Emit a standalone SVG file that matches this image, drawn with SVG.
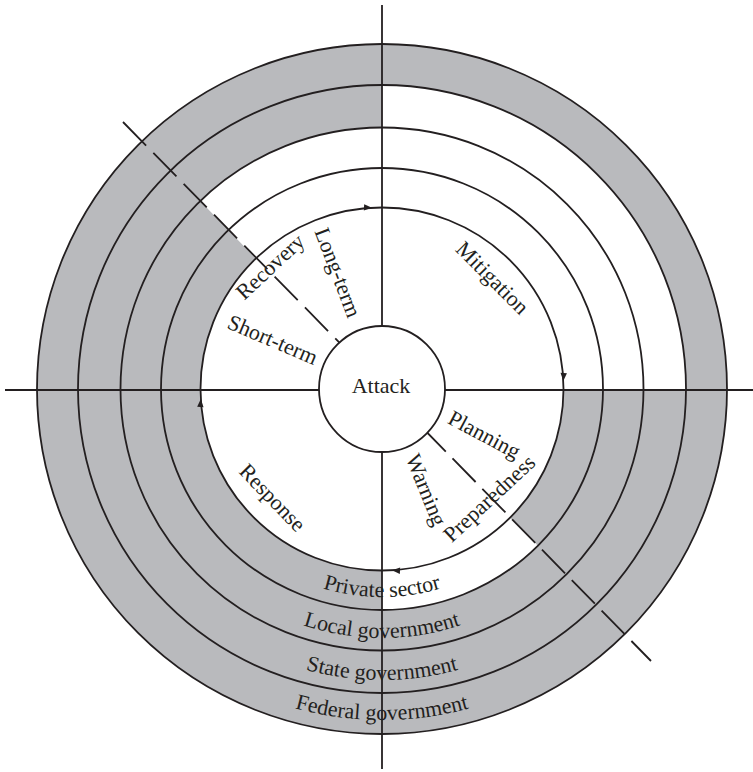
<svg xmlns="http://www.w3.org/2000/svg" width="753" height="772" viewBox="0 0 753 772">
<style>
.ring{fill:none;stroke:#231f20;stroke-width:1.8}
.ax{stroke:#231f20;stroke-width:1.8;fill:none}
.dash{stroke:#231f20;stroke-width:1.8;fill:none}
.lbl{font-family:"Liberation Serif","Times New Roman",serif;font-size:22px;fill:#231f20}
.gray{fill:#b9babd}
.white{fill:#ffffff}
</style>
<defs>
<path id="ah" d="M0,0 L-8,-3.2 L-8,3.2 Z" fill="#231f20"/>
<path id="arcD" d="M174,389 A208,208 0 0 0 590,389"/>
<path id="arcC" d="M133,389 A249,249 0 0 0 631,389"/>
<path id="arcB" d="M91,389 A291,291 0 0 0 673,389"/>
<path id="arcA" d="M51,389 A331,331 0 0 0 713,389"/>
</defs>
<rect width="753" height="772" fill="#ffffff"/>
<g id="fills">
<circle class="gray" cx="382" cy="389" r="345"/>
<path class="white" d="M382,389 L382,85 A304,304 0 0 1 686,389 Z"/>
<path class="white" d="M382,389 L200,200.8 A261.5,261.5 0 0 1 643.5,389 Z"/>
<path class="white" d="M382,389 L537.6,545.5 A221,221 0 0 1 382,610 Z"/>
<circle class="white" cx="382" cy="389" r="181.5"/>
</g>
<g id="rings">
<circle id="ring-federal" class="ring" cx="382" cy="389" r="345"/>
<circle id="ring-state" class="ring" cx="382" cy="389" r="304"/>
<circle id="ring-local" class="ring" cx="382" cy="389" r="261.5"/>
<circle id="ring-private" class="ring" cx="382" cy="389" r="221"/>
<circle id="ring-cycle" class="ring" cx="382" cy="389" r="181.5"/>
</g>
<g id="connectors">
<line class="ax" x1="5" y1="390" x2="753" y2="390"/>
<line class="ax" x1="382" y1="5" x2="382" y2="769"/>
<line class="dash" x1="123" y1="122" x2="382" y2="386" stroke-dasharray="33 10.3"/>
<line class="dash" x1="422.7" y1="428" x2="651" y2="661" stroke-dasharray="33 9.6"/>
<use href="#ah" transform="translate(372,207.8) rotate(3)"/>
<use href="#ah" transform="translate(563.3,381) rotate(93)"/>
<use href="#ah" transform="translate(392,570.3) rotate(183)"/>
<use href="#ah" transform="translate(200.8,399) rotate(273)"/>
</g>
<g id="attack">
<circle cx="382" cy="389" r="63" fill="#ffffff" stroke="#231f20" stroke-width="1.8"/>
<text class="lbl" x="381" y="393" text-anchor="middle">Attack</text>
</g>
<g id="mitigation"><text class="lbl" transform="translate(490.8,279.5) rotate(45)" y="5" text-anchor="middle">Mitigation</text></g>
<g id="recovery"><text class="lbl" transform="translate(271.7,268.3) rotate(-43)" y="5" text-anchor="middle">Recovery</text></g>
<g id="long-term"><text class="lbl" transform="translate(335.8,273.3) rotate(69)" y="5" text-anchor="middle">Long-term</text></g>
<g id="short-term"><text class="lbl" transform="translate(272.5,340) rotate(23)" y="7" text-anchor="middle">Short-term</text></g>
<g id="planning"><text class="lbl" transform="translate(483.3,436.7) rotate(28)" y="5" text-anchor="middle">Planning</text></g>
<g id="warning"><text class="lbl" transform="translate(424.2,490.8) rotate(68)" y="5" text-anchor="middle">Warning</text></g>
<g id="preparedness"><text class="lbl" transform="translate(490.8,500) rotate(-43)" y="5" text-anchor="middle">Preparedness</text></g>
<g id="response"><text class="lbl" transform="translate(270.8,499.2) rotate(46)" y="5" text-anchor="middle">Response</text></g>
<g id="private-sector"><text class="lbl"><textPath href="#arcD" startOffset="50%" text-anchor="middle">Private sector</textPath></text></g>
<g id="local-government"><text class="lbl"><textPath href="#arcC" startOffset="50%" text-anchor="middle">Local government</textPath></text></g>
<g id="state-government"><text class="lbl"><textPath href="#arcB" startOffset="50%" text-anchor="middle">State government</textPath></text></g>
<g id="federal-government"><text class="lbl"><textPath href="#arcA" startOffset="50%" text-anchor="middle">Federal government</textPath></text></g>
</svg>
